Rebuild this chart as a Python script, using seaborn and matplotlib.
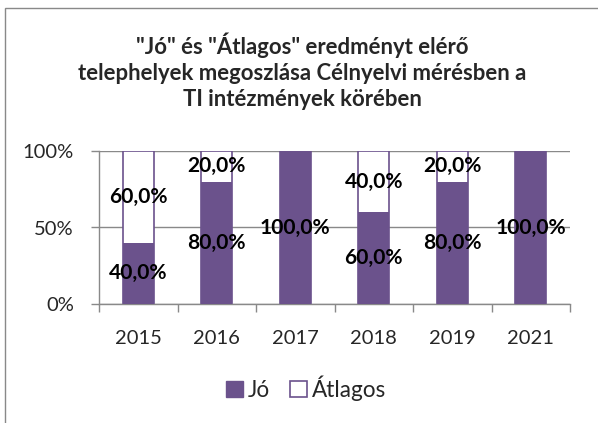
import numpy as np
import seaborn as sns
import matplotlib.pyplot as plt
from matplotlib.patches import Rectangle, Patch

# data
years = ["2015", "2016", "2017", "2018", "2019", "2021"]
jo = [40.0, 80.0, 100.0, 60.0, 80.0, 100.0]
atlagos = [60.0, 20.0, 0.0, 40.0, 20.0, 0.0]
yticks = [0, 50, 100]
ytick_labels = ["0%", "50%", "100%"]
title_lines = ['"Jó" és "Átlagos" eredményt elérő',
               'telephelyek megoszlása Célnyelvi mérésben a',
               'TI intézmények körében']

PURPLE = "#6B528C"
GREY = "#898989"
W, H = 598, 423

sns.set_style("white")
plt.rcParams['font.family'] = ['Lato', 'DejaVu Sans']

fig = plt.figure(figsize=(W / 100, H / 100), dpi=100)
renderer = fig.canvas.get_renderer()


def fit_size(text, target_px, weight="normal"):
    # pick a font size so the text is about target_px wide
    t = fig.text(0, 0, text, fontsize=10, fontweight=weight)
    w = t.get_window_extent(renderer=renderer).width
    t.remove()
    return 10 * target_px / w


fs_title = fit_size(title_lines[1], 450, "bold")
fs_value = fit_size("60,0%", 59, "bold")
fs_ytick = fit_size("100%", 51)
fs_xtick = fit_size("2015", 47)
fs_legend = fit_size("Átlagos", 74)

ax = fig.add_axes([99 / W, 1 - 304 / H, 471 / W, 153 / H])

totals = np.array(jo) + np.array(atlagos)
sns.barplot(x=years, y=totals, color="white", edgecolor=PURPLE, linewidth=1.2,
            width=0.4, saturation=1, ax=ax, zorder=2)
sns.barplot(x=years, y=jo, color=PURPLE, edgecolor=PURPLE, linewidth=0,
            width=0.4, saturation=1, ax=ax, zorder=3)

# value labels in the middle of each segment
for i, (a, b) in enumerate(zip(jo, atlagos)):
    if a > 0:
        ax.text(i, a / 2, f"{a:.1f}%".replace(".", ","), ha="center", va="center",
                fontsize=fs_value, fontweight="bold", color="black", zorder=5)
    if b > 0:
        ax.text(i, a + b / 2, f"{b:.1f}%".replace(".", ","), ha="center", va="center",
                fontsize=fs_value, fontweight="bold", color="black", zorder=5)

ax.set_ylim(0, 100)
ax.set_xlim(-0.5, len(years) - 0.5)
ax.set_yticks(yticks)
ax.set_yticklabels(ytick_labels, fontsize=fs_ytick)
ax.set_xticks(range(len(years)))
ax.set_xticklabels(years, fontsize=fs_xtick)
ax.tick_params(axis="x", length=0, pad=19)
ax.tick_params(axis="y", length=6, width=1, color=GREY, direction="out", left=True, pad=12)
# small ticks between the categories
ax.set_xticks(np.arange(-0.5, len(years)), minor=True)
ax.tick_params(axis="x", which="minor", length=6, width=1, color=GREY, bottom=True)
ax.yaxis.grid(True, color=GREY, linewidth=1, zorder=0)
ax.set_axisbelow(True)
for s in ["top", "right"]:
    ax.spines[s].set_visible(False)
for s in ["left", "bottom"]:
    ax.spines[s].set_color(GREY)
    ax.spines[s].set_linewidth(1)
ax.set_xlabel("")
ax.set_ylabel("")

# title, one line at a time
for line, ypx in zip(title_lines, [45, 73, 100]):
    fig.text(302 / W, 1 - ypx / H, line, ha="center", va="center",
             fontsize=fs_title, fontweight="bold")

handles = [Patch(facecolor=PURPLE, edgecolor=PURPLE, label="Jó"),
           Patch(facecolor="white", edgecolor=PURPLE, linewidth=1.2, label="Átlagos")]
fig.legend(handles=handles, loc="center", bbox_to_anchor=(306 / W, 1 - 388 / H), ncol=2,
           frameon=False, fontsize=fs_legend, handlelength=0.75, handleheight=0.75,
           handletextpad=0.2, columnspacing=0.9, borderpad=0)

# chart border (left and top visible)
fig.patches.append(Rectangle((4.5 / W, -0.1), 1.2, 0.1 + 1 - 8.5 / H, transform=fig.transFigure,
                             fill=False, edgecolor=GREY, linewidth=1))

fig.savefig("out.png", dpi=100)
